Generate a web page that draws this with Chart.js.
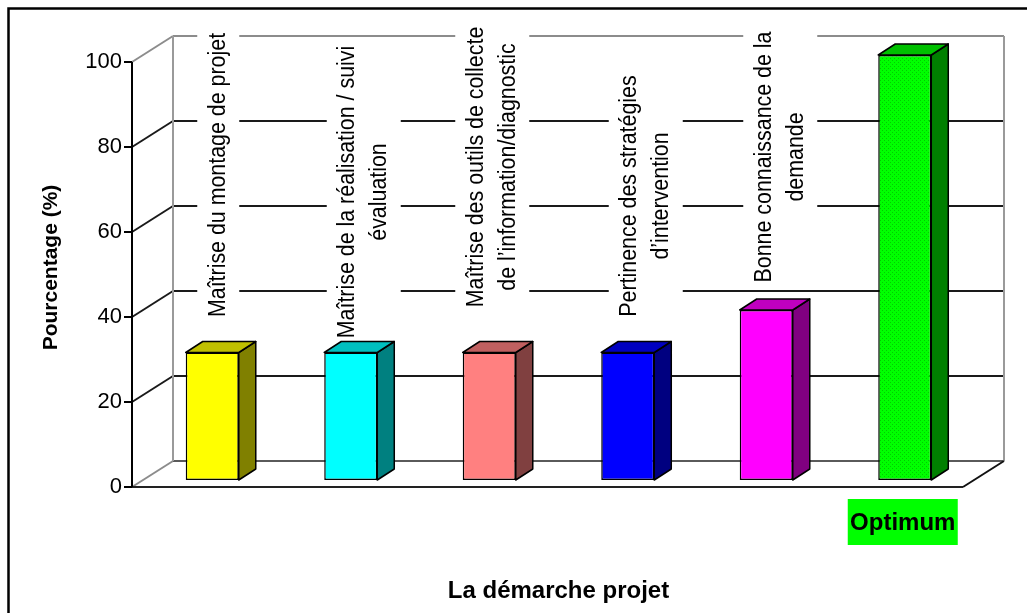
<!DOCTYPE html>
<html>
<head>
<meta charset="utf-8">
<script src="https://cdn.jsdelivr.net/npm/chart.js@4/dist/chart.umd.min.js"></script>
<style>
  html, body { margin: 0; padding: 0; background: #fff; }
  canvas { display: block; }
</style>
</head>
<body>
<canvas id="chart" width="1027" height="613"></canvas>
<script>
// data
const categories = [
  ['Maîtrise du montage de projet'],
  ['Maîtrise de la réalisation / suivi', 'évaluation'],
  ['Maîtrise des outils de collecte', 'de l’information/diagnostic'],
  ['Pertinence des stratégies', 'd’intervention'],
  ['Bonne connaissance de la', 'demande'],
  'Optimum'
];
const values = [30, 30, 30, 30, 40, 100];
const yTicks = [0, 20, 40, 60, 80, 100];
const xTitle = 'La démarche projet';
const yTitle = 'Pourcentage (%)';

// styles
const FONT = "'Liberation Sans', Arial, sans-serif";
const frontColors = ['#ffff00', '#00ffff', '#ff8080', '#0000ff', '#ff00ff', '#00ff00'];
const sideColors = ['#808000', '#008080', '#804040', '#000080', '#800080', '#008000'];
const topColors = ['#c0c000', '#00c0c0', '#c06060', '#0000c0', '#c000c0', '#00c000'];

// fake 3d offsets (px) relative to the plane the bars stand in
const FRONT = { dx: -11, dy: 7 };
const BACK = { dx: 30, dy: -19 };
const DEPTH = { dx: 17, dy: -11 };
// hand placement of the rotated labels (like the original text boxes)
const labelDx = [6, 13, 3, 18, 14];
const labelDy = [-5, 12, -13, 16, -23];

const canvas = document.getElementById('chart');

// green bar has a fine dotted fill
function dotted(base, dot) {
  const c = document.createElement('canvas');
  c.width = 4; c.height = 4;
  const g = c.getContext('2d');
  g.fillStyle = base; g.fillRect(0, 0, 4, 4);
  g.fillStyle = dot; g.fillRect(0, 0, 1, 1); g.fillRect(2, 2, 1, 1);
  return canvas.getContext('2d').createPattern(c, 'repeat');
}
const fills = frontColors.map((c, i) => i === values.length - 1 ? dotted(c, '#00cc00') : c);

function line(ctx, x1, y1, x2, y2, color) {
  ctx.strokeStyle = color;
  ctx.beginPath(); ctx.moveTo(x1, y1); ctx.lineTo(x2, y2); ctx.stroke();
}
function poly(ctx, pts, color) {
  ctx.beginPath();
  pts.forEach((p, i) => i ? ctx.lineTo(p[0], p[1]) : ctx.moveTo(p[0], p[1]));
  ctx.closePath();
  ctx.fillStyle = color; ctx.fill();
  ctx.stroke();
}

const box3d = {
  id: 'box3d',
  beforeDatasetsDraw(chart) {
    const { ctx, chartArea: a, scales: { y } } = chart;
    const fl = a.left + FRONT.dx, fr = a.right + FRONT.dx;
    const bl = a.left + BACK.dx, br = a.right + BACK.dx;
    const y0 = y.getPixelForValue(yTicks[0]);
    const yTop = y.getPixelForValue(yTicks[yTicks.length - 1]);
    ctx.save();
    ctx.lineWidth = 2;
    yTicks.forEach((v, i) => {
      const py = y.getPixelForValue(v);
      const edge = i === 0 || i === yTicks.length - 1;
      const col = edge ? '#8c8c8c' : '#1a1a1a';
      if (i > 0) line(ctx, bl, py + BACK.dy, br, py + BACK.dy, col);
      line(ctx, fl, py + FRONT.dy, bl, py + BACK.dy, col);
      line(ctx, fl - 8, py + FRONT.dy, fl, py + FRONT.dy, '#000');
    });
    line(ctx, bl, y0 + BACK.dy, br, y0 + BACK.dy, '#5a5a5a');
    line(ctx, bl, yTop + BACK.dy, bl, y0 + BACK.dy, '#9a9a9a');
    line(ctx, br, yTop + BACK.dy, br, y0 + BACK.dy, '#9a9a9a');
    line(ctx, fl, y0 + FRONT.dy, fr, y0 + FRONT.dy, '#222');
    line(ctx, fr, y0 + FRONT.dy, br, y0 + BACK.dy, '#111');
    line(ctx, fl, yTop + FRONT.dy, fl, y0 + FRONT.dy, '#000');

    // rotated category labels above the bars, on white boxes
    const meta = chart.getDatasetMeta(0);
    const squeeze = 0.93;
    ctx.font = '23px ' + FONT;
    categories.forEach((lab, i) => {
      if (i === categories.length - 1) return;
      const lines = [].concat(lab);
      const cx = meta.data[i].x + labelDx[i];
      const cy = a.top + 125 + labelDy[i];
      const len = squeeze * Math.max(...lines.map(s => ctx.measureText(s).width));
      const thick = (lines.length - 1) * 32 + 42;
      ctx.fillStyle = '#fff';
      ctx.fillRect(cx - thick / 2, cy - len / 2 - 6, thick, len + 12);
      ctx.save();
      ctx.translate(cx, cy);
      ctx.rotate(-Math.PI / 2);
      ctx.scale(squeeze, 1);
      ctx.fillStyle = '#000';
      ctx.textAlign = 'center';
      ctx.textBaseline = 'middle';
      lines.forEach((s, k) => ctx.fillText(s, 0, (k - (lines.length - 1) / 2) * 32));
      ctx.restore();
    });
    ctx.restore();
  },
  afterDatasetsDraw(chart) {
    const { ctx } = chart;
    const meta = chart.getDatasetMeta(0);
    ctx.save();
    ctx.lineWidth = 1.5;
    ctx.strokeStyle = '#000';
    ctx.lineJoin = 'round';
    meta.data.forEach((bar, i) => {
      const { x, y, base, width } = bar.getProps(['x', 'y', 'base', 'width'], true);
      const l = x - width / 2, r = x + width / 2;
      poly(ctx, [[r, y], [r + DEPTH.dx, y + DEPTH.dy], [r + DEPTH.dx, base + DEPTH.dy], [r, base]], sideColors[i]);
      poly(ctx, [[l, y], [l + DEPTH.dx, y + DEPTH.dy], [r + DEPTH.dx, y + DEPTH.dy], [r, y]], topColors[i]);
    });
    ctx.restore();
  },
  afterDraw(chart) {
    const { ctx, chartArea: a } = chart;
    const meta = chart.getDatasetMeta(0);
    const last = categories.length - 1;
    const cx = meta.data[last].x - 2;
    ctx.save();
    ctx.fillStyle = '#00ff00';
    ctx.fillRect(cx - 55, a.bottom + 19, 110, 46);
    ctx.fillStyle = '#000';
    ctx.font = 'bold 24px ' + FONT;
    ctx.textAlign = 'center';
    ctx.textBaseline = 'middle';
    ctx.fillText(categories[last], cx, a.bottom + 43);
    // outer frame
    ctx.lineWidth = 2.5;
    ctx.strokeStyle = '#000';
    ctx.strokeRect(8.5, 8.5, 1040, 640);
    ctx.restore();
  }
};

new Chart(canvas, {
  type: 'bar',
  data: {
    labels: categories,
    datasets: [{
      data: values,
      backgroundColor: fills,
      borderColor: '#000',
      borderWidth: 1.5,
      borderSkipped: false,
      barPercentage: 0.383,
      categoryPercentage: 1
    }]
  },
  options: {
    responsive: false,
    animation: false,
    events: [],
    layout: { padding: { left: 28, top: 55, right: 53, bottom: 0 } },
    plugins: { legend: { display: false }, tooltip: { enabled: false } },
    scales: {
      x: {
        grid: { display: false, drawTicks: false },
        border: { display: false },
        ticks: { display: false },
        title: {
          display: true, text: xTitle, color: '#000',
          font: { family: FONT, size: 24, weight: 'bold' },
          padding: { top: 0, bottom: 7 }
        },
        afterFit: s => { s.height = 133; }
      },
      y: {
        min: 0, max: 100,
        grid: { display: false, drawTicks: false },
        border: { display: false },
        afterBuildTicks: s => { s.ticks = yTicks.map(v => ({ value: v })); },
        ticks: { padding: 21, labelOffset: 7, color: '#000', font: { family: FONT, size: 22 } },
        title: {
          display: true, text: yTitle, color: '#000',
          font: { family: FONT, size: 21, weight: 'bold' },
          padding: { top: 11, bottom: 0 }
        },
        afterFit: s => { s.width = 115; }
      }
    }
  },
  plugins: [box3d]
});
</script>
</body>
</html>
